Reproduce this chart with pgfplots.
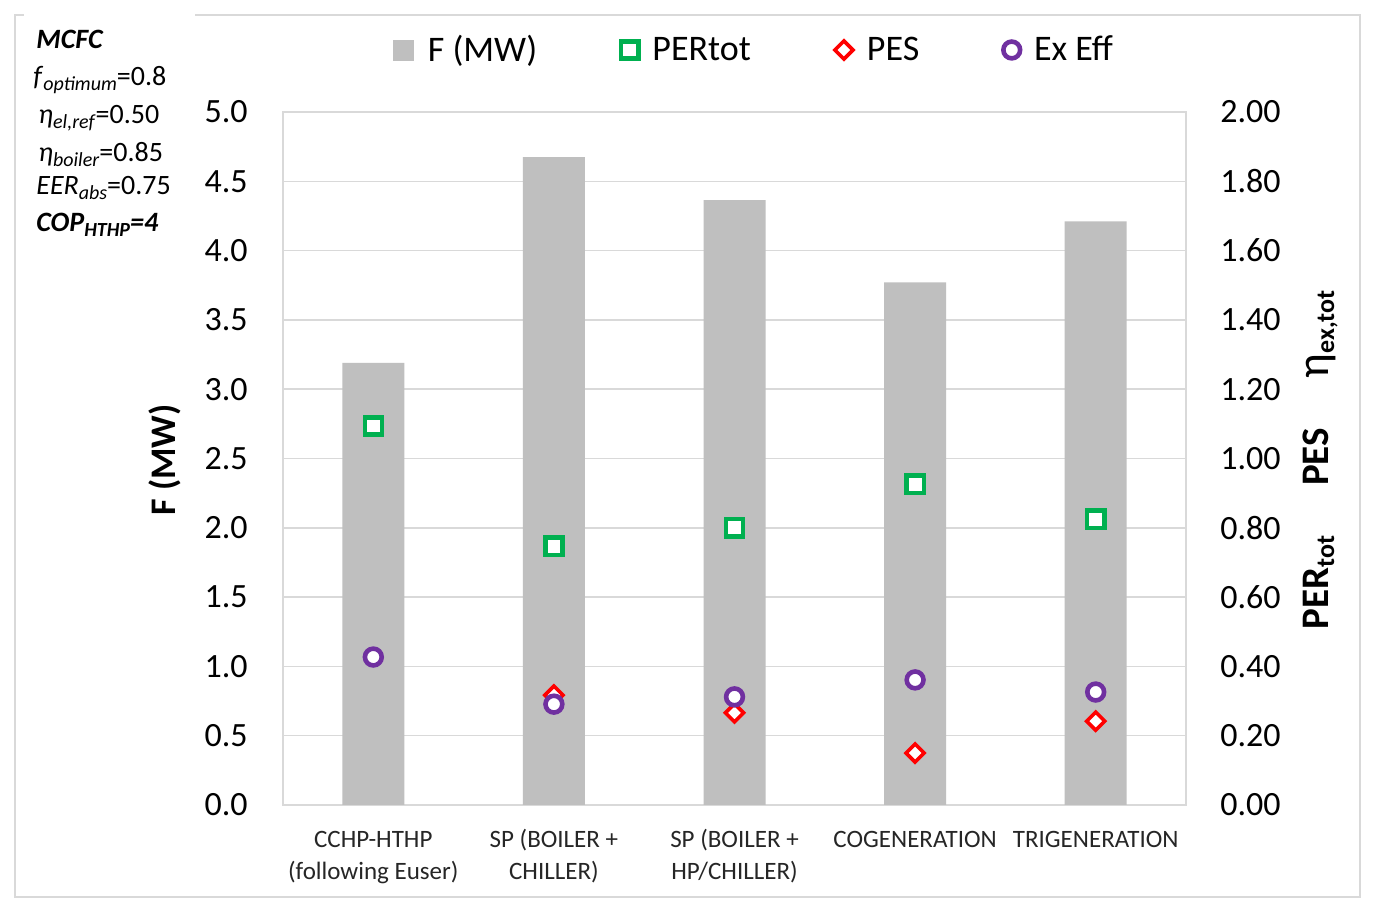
\documentclass[border=0pt]{standalone}
\usepackage{pgfplots}
\pgfplotsset{compat=1.18}
\usepackage{fontspec}
\setmainfont{Carlito}
\definecolor{barg}{HTML}{BFBFBF}
\definecolor{gridc}{HTML}{D9D9D9}
\definecolor{pgreen}{HTML}{00B050}
\definecolor{pred}{HTML}{FF0000}
\definecolor{ppurple}{HTML}{7030A0}
\definecolor{labc}{HTML}{262626}
\newcommand\sub[1]{\raisebox{-2.5pt}{\fontsize{10}{10}\selectfont #1}}
\newcommand\rsub[1]{\raisebox{-3pt}{\fontsize{13}{13}\selectfont #1}}
\begin{document}
\begin{tikzpicture}[x=1pt,y=1pt]
\useasboundingbox (0,0) rectangle (687.5,454.5);
\fill[white] (0,0) rectangle (687.5,454.5);
\draw[gridc, line width=0.75pt] (7.5,6) rectangle (680,447);
\fill[white] (12,444) rectangle (97.5,450);
% annotation
\node[anchor=base west, inner sep=0pt, font=\fontsize{14}{14}\selectfont] at (18,430) {\textbf{\textit{MCFC}}};
\node[anchor=base west, inner sep=0pt, font=\fontsize{14}{14}\selectfont] at (16.5,411.5) {\textit{f}\sub{\textit{optimum}}=0.8};
\node[anchor=base west, inner sep=0pt, font=\fontsize{14}{14}\selectfont] at (19,392.5) {\textit{η}\sub{\textit{el,ref}}=0.50};
\node[anchor=base west, inner sep=0pt, font=\fontsize{14}{14}\selectfont] at (19,373.5) {\textit{η}\sub{\textit{boiler}}=0.85};
\node[anchor=base west, inner sep=0pt, font=\fontsize{14}{14}\selectfont] at (18,357) {\textit{EER}\sub{\textit{abs}}=0.75};
\node[anchor=base west, inner sep=0pt, font=\fontsize{14}{14}\selectfont] at (18,338.5) {\textbf{\textit{COP}}\sub{\textbf{\textit{HTHP}}}\textbf{\textit{=4}}};
% axis labels
\node[rotate=90, inner sep=0pt, font=\bfseries\fontsize{18}{18}\selectfont] at (82.5,224.5) {F (MW)};
\node[rotate=90, inner sep=0pt, font=\fontsize{19.5}{19.5}\selectfont] at (660,224.5) {\textbf{PER}\rsub{\textbf{tot}}\hspace{25pt}\textbf{PES}\hspace{25pt}{\fontsize{23}{23}\selectfont η}\rsub{\textbf{ex,tot}}};
\begin{axis}[
  at={(141.5pt,52pt)}, anchor=south west, scale only axis,
  width=451.5pt, height=346.5pt,
  xmin=-0.5, xmax=4.5, ymin=0, ymax=5,
  ytick={0,0.5,1,1.5,2,2.5,3,3.5,4,4.5,5},
  ymajorgrids, grid style={gridc, line width=0.75pt},
  axis line style={gridc, line width=0.75pt},
  major tick length=0pt,
  xtick={0,1,2,3,4},
  xticklabels={\strut CCHP-HTHP\\(following Euser), \strut SP (BOILER +\\CHILLER), \strut SP (BOILER +\\HP/CHILLER), \strut COGENERATION, \strut TRIGENERATION},
  xticklabel style={align=center, inner sep=0pt, anchor=north, yshift=-9.7pt, text=labc, font=\fontsize{12.5}{16}\selectfont},
  yticklabel style={inner sep=0pt, anchor=east, xshift=-17.5pt, font=\fontsize{17}{17}\selectfont, /pgf/number format/.cd, fixed, fixed zerofill, precision=1},
  /pgf/number format/assume math mode=true,
  ybar, bar width=31pt,
]
\addplot[fill=barg, draw=none] coordinates {(0,3.19) (1,4.675) (2,4.365) (3,3.77) (4,4.21)};
\end{axis}
\begin{axis}[
  at={(141.5pt,52pt)}, anchor=south west, scale only axis,
  width=451.5pt, height=346.5pt,
  xmin=-0.5, xmax=4.5, ymin=0, ymax=2,
  axis y line*=right, axis x line=none,
  axis line style={gridc, line width=0.75pt},
  major tick length=0pt,
  ytick={0,0.2,0.4,0.6,0.8,1,1.2,1.4,1.6,1.8,2},
  yticklabel style={inner sep=0pt, anchor=west, xshift=17pt, font=\fontsize{17}{17}\selectfont, /pgf/number format/.cd, fixed, fixed zerofill, precision=2},
  /pgf/number format/assume math mode=true,
  legend columns=4,
  legend style={at={(axis description cs:0.5227,1.0895)}, anchor=center, draw=none, fill=none, font=\fontsize{18}{18}\selectfont, /tikz/every odd column/.append style={column sep=5pt}, /tikz/every even column/.append style={column sep=40pt}},
]
\addlegendimage{legend image code/.code={\fill[barg] (0pt,-5pt) rectangle (10pt,5pt);}}
\addlegendentry{F (MW)}
\addplot[only marks, mark=square*, mark size=4.3pt, mark options={draw=pgreen, fill=white, line width=2.2pt}] coordinates {(0,1.094) (1,0.747) (2,0.80) (3,0.926) (4,0.825)};
\addlegendentry{PERtot}
\addplot[only marks, mark=square*, mark size=3.2pt, mark options={draw=pred, fill=white, line width=1.8pt, rotate=45}] coordinates {(1,0.317) (2,0.266) (3,0.150) (4,0.242)};
\addlegendentry{PES}
\addplot[only marks, mark=*, mark size=4.2pt, mark options={draw=ppurple, fill=white, line width=2.3pt}] coordinates {(0,0.427) (1,0.291) (2,0.312) (3,0.361) (4,0.326)};
\addlegendentry{Ex Eff}
\end{axis}
\end{tikzpicture}
\end{document}
